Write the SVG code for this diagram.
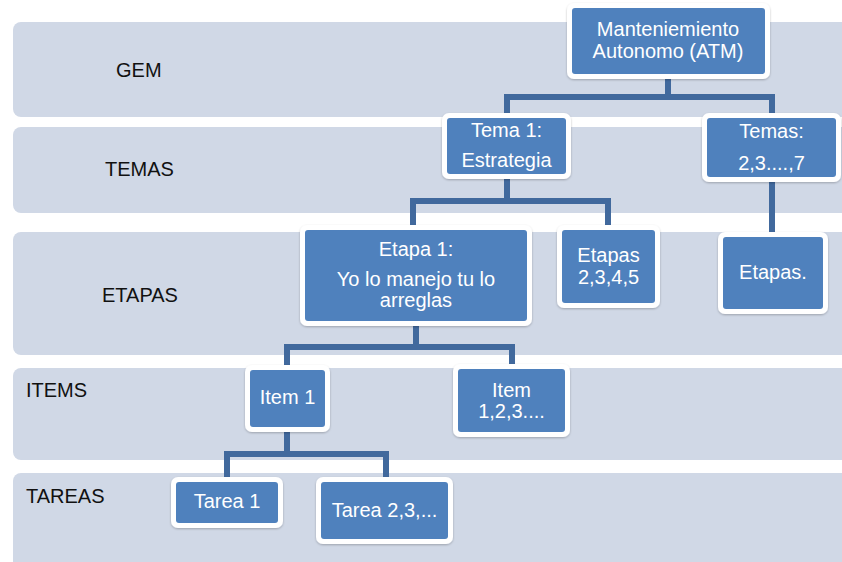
<svg xmlns="http://www.w3.org/2000/svg" width="842" height="562" viewBox="0 0 842 562">
<style>
.band{fill:#D0D8E6}
.lbl{font-family:"Liberation Sans",Arial,sans-serif;font-size:20px;fill:#111}
.frame{fill:#FFFFFF;filter:url(#sh)}
.box{fill:#4F81BD}
.t{font-family:"Liberation Sans",Arial,sans-serif;font-size:20px;fill:#FFFFFF;text-anchor:middle}
.conn{fill:none;stroke:#41699D;stroke-width:6;stroke-linejoin:miter;stroke-linecap:butt}
</style>
<defs>
<filter id="sh" x="-10%" y="-10%" width="120%" height="130%">
<feDropShadow dx="0" dy="1" stdDeviation="1.2" flood-color="#000" flood-opacity="0.25"/>
</filter>
</defs>
<rect width="842" height="562" fill="#FFFFFF"/>
<g id="bands">
<rect class="band" x="13" y="22" width="860" height="95" rx="8"/>
<rect class="band" x="13" y="127" width="860" height="86" rx="8"/>
<rect class="band" x="13" y="232" width="860" height="123" rx="8"/>
<rect class="band" x="13" y="368" width="860" height="92" rx="8"/>
<rect class="band" x="13" y="473" width="860" height="110" rx="8"/>
</g>
<g id="labels">
<text class="lbl" x="116" y="77">GEM</text>
<text class="lbl" x="105" y="176">TEMAS</text>
<text class="lbl" x="102" y="302">ETAPAS</text>
<text class="lbl" x="26" y="397">ITEMS</text>
<text class="lbl" x="26" y="503">TAREAS</text>
</g>
<g id="connectors">
<path class="conn" d="M668,74 V97 M507,118 V97 H772 V118"/>
<path class="conn" d="M507,174 V201 M413,230 V201 H608 V230"/>
<path class="conn" d="M772,177 V237"/>
<path class="conn" d="M416,321 V347 M287,370 V347 H512 V369"/>
<path class="conn" d="M287,427 V454 M227,482 V454 H386 V482"/>
</g>
<g id="atm">
<rect class="frame" x="567" y="3" width="203" height="76" rx="7"/>
<rect class="box" x="572" y="8" width="193" height="66" rx="3"/>
<text class="t" x="668" y="36">Manteniemiento</text>
<text class="t" x="668" y="58">Autonomo (ATM)</text>
</g>
<g id="tema1">
<rect class="frame" x="442" y="113" width="129" height="66" rx="7"/>
<rect class="box" x="447" y="118" width="119" height="56" rx="3"/>
<text class="t" x="506.5" y="137">Tema 1:</text>
<text class="t" x="506.5" y="167">Estrategia</text>
</g>
<g id="temas">
<rect class="frame" x="702" y="113" width="139" height="69" rx="7"/>
<rect class="box" x="707" y="118" width="129" height="59" rx="3"/>
<text class="t" x="771.5" y="138">Temas:</text>
<text class="t" x="771.5" y="170">2,3....,7</text>
</g>
<g id="etapa1">
<rect class="frame" x="300" y="225" width="232" height="101" rx="7"/>
<rect class="box" x="305" y="230" width="222" height="91" rx="3"/>
<text class="t" x="416" y="256">Etapa 1:</text>
<text class="t" x="416" y="286">Yo lo manejo tu lo</text>
<text class="t" x="416" y="307">arreglas</text>
</g>
<g id="etapas2345">
<rect class="frame" x="557" y="225" width="103" height="83" rx="7"/>
<rect class="box" x="562" y="230" width="93" height="73" rx="3"/>
<text class="t" x="608.5" y="262">Etapas</text>
<text class="t" x="608.5" y="284">2,3,4,5</text>
</g>
<g id="etapas">
<rect class="frame" x="718" y="232" width="110" height="82" rx="7"/>
<rect class="box" x="723" y="237" width="100" height="72" rx="3"/>
<text class="t" x="773" y="279">Etapas.</text>
</g>
<g id="item1">
<rect class="frame" x="245" y="365" width="85" height="67" rx="7"/>
<rect class="box" x="250" y="370" width="75" height="57" rx="3"/>
<text class="t" x="287.5" y="404">Item 1</text>
</g>
<g id="item123">
<rect class="frame" x="453" y="364" width="117" height="73" rx="7"/>
<rect class="box" x="458" y="369" width="107" height="63" rx="3"/>
<text class="t" x="511.5" y="397">Item</text>
<text class="t" x="511.5" y="418">1,2,3....</text>
</g>
<g id="tarea1">
<rect class="frame" x="171" y="477" width="112" height="51" rx="7"/>
<rect class="box" x="176" y="482" width="102" height="41" rx="3"/>
<text class="t" x="227" y="508">Tarea 1</text>
</g>
<g id="tarea23">
<rect class="frame" x="316" y="477" width="137" height="67" rx="7"/>
<rect class="box" x="321" y="482" width="127" height="57" rx="3"/>
<text class="t" x="384.5" y="517">Tarea 2,3,...</text>
</g>
</svg>
